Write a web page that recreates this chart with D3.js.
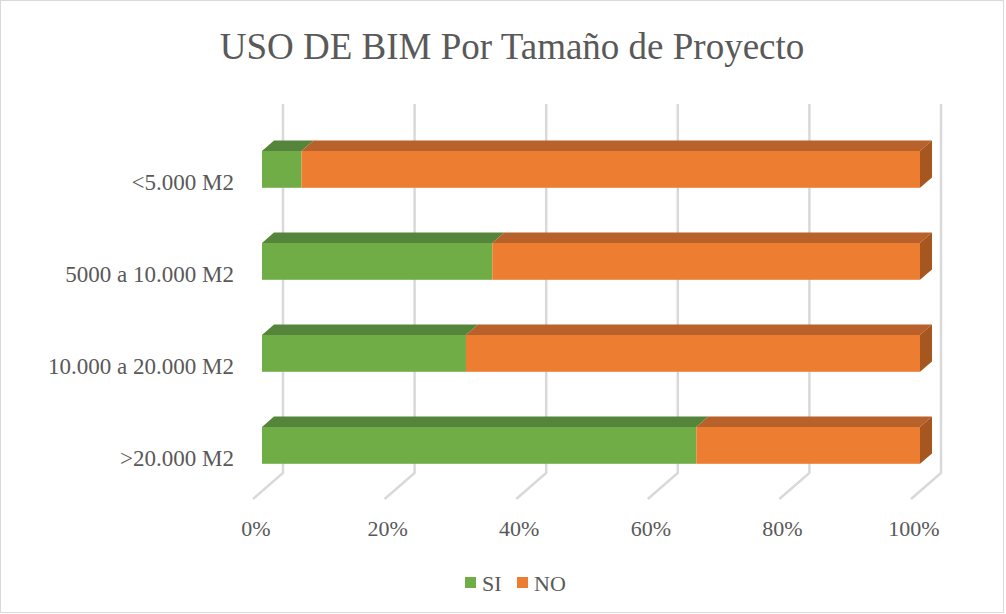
<!DOCTYPE html>
<html><head><meta charset="utf-8">
<script src="https://cdn.jsdelivr.net/npm/d3@7"></script>
<style>html,body{margin:0;padding:0;background:#fff;}svg{display:block;}
text{font-family:"Liberation Serif","Times New Roman",Times,serif;}</style>
</head><body>
<svg id="c" width="1006" height="614"></svg>
<script>
const categories = ["<5.000 M2", "5000 a 10.000 M2", "10.000 a 20.000 M2", ">20.000 M2"];
const siValues = [0.06, 0.35, 0.31, 0.66];
const noValues = [0.94, 0.65, 0.69, 0.34];
const seriesNames = ["SI", "NO"];
const tickValues = [0, 0.2, 0.4, 0.6, 0.8, 1.0];
const titleText = "USO DE BIM Por Tamaño de Proyecto";

const colors = {SI: "#70ad47", NO: "#ed7d31"};
const topColors = {SI: "#55853a", NO: "#b8612a"};
const sideColor = "#a6561f";
const textColor = "#595959";
const gridColor = "#d9d9d9";

const svg = d3.select("#c");
svg.append("rect").attr("x", 0.5).attr("y", 0.5).attr("width", 1003).attr("height", 612)
  .attr("fill", "#fff").attr("stroke", gridColor).attr("stroke-width", 1);

// front-floor x scale
const x = d3.scaleLinear().domain([0, 1]).range([253, 911]);
// depth offset: t from 0 (front) to 1 (back wall)
const DX = 30, DY = -26;
const off = t => [DX * t, DY * t];
const tFront = 0.3, tBack = 0.7;

const y = d3.scaleBand().domain(categories).range([123.4, 491.4]).paddingInner(0.6).paddingOuter(0.3);

const floorY = 499;
const wallTop = 104;

// gridlines
const g = svg.append("g");
tickValues.forEach(v => {
  const bx = x(v) + DX, by = floorY + DY;
  g.append("path")
    .attr("d", `M${bx},${wallTop} L${bx},${by} L${x(v)},${floorY}`)
    .attr("fill", "none").attr("stroke", gridColor).attr("stroke-width", 2.5);
});

// bars
const stackData = categories.map((c, i) => ({cat: c, SI: siValues[i], NO: noValues[i]}));
const stack = d3.stack().keys(seriesNames)(stackData);
const [fx, fy] = off(tFront);
const [bxo, byo] = off(tBack);
const ddx = bxo - fx, ddy = byo - fy;

const barsG = svg.append("g");
stack.forEach(layer => {
  const key = layer.key;
  layer.forEach(d => {
    const cat = d.data.cat;
    const x0 = x(d[0]) + fx, x1 = x(d[1]) + fx;
    const yt = y(cat), yb = y(cat) + y.bandwidth();
    barsG.append("rect").attr("x", x0).attr("y", yt).attr("width", x1 - x0).attr("height", yb - yt)
      .attr("fill", colors[key]);
    barsG.append("path")
      .attr("d", `M${x0},${yt} L${x0 + ddx},${yt + ddy} L${x1 + ddx},${yt + ddy} L${x1},${yt} Z`)
      .attr("fill", topColors[key]);
    if (key === "NO") {
      barsG.append("path")
        .attr("d", `M${x1},${yt} L${x1 + ddx},${yt + ddy} L${x1 + ddx},${yb + ddy} L${x1},${yb} Z`)
        .attr("fill", sideColor);
    }
  });
});

// category labels
svg.append("g").selectAll("text").data(categories).join("text")
  .attr("x", 234).attr("y", d => y(d) + y.bandwidth() / 2 + 21)
  .attr("text-anchor", "end")
  .attr("font-size", 23).attr("fill", textColor)
  .text(d => d);

// tick labels
const fmt = d3.format(".0%");
svg.append("g").selectAll("text").data(tickValues).join("text")
  .attr("x", d => x(d) + 3).attr("y", 536)
  .attr("text-anchor", "middle")
  .attr("font-size", 22).attr("fill", textColor)
  .text(d => fmt(d));

// title
svg.append("text").attr("x", 512).attr("y", 59).attr("text-anchor", "middle")
  .attr("font-size", 37).attr("fill", textColor)
  .text(titleText);

// legend
const legendX = [465, 517];
const lg = svg.append("g");
seriesNames.forEach((s, i) => {
  lg.append("rect").attr("x", legendX[i]).attr("y", 577).attr("width", 11).attr("height", 11).attr("fill", colors[s]);
  lg.append("text").attr("x", legendX[i] + 17).attr("y", 591)
    .attr("font-size", 22).attr("fill", textColor).text(s);
});
</script>
</body></html>
